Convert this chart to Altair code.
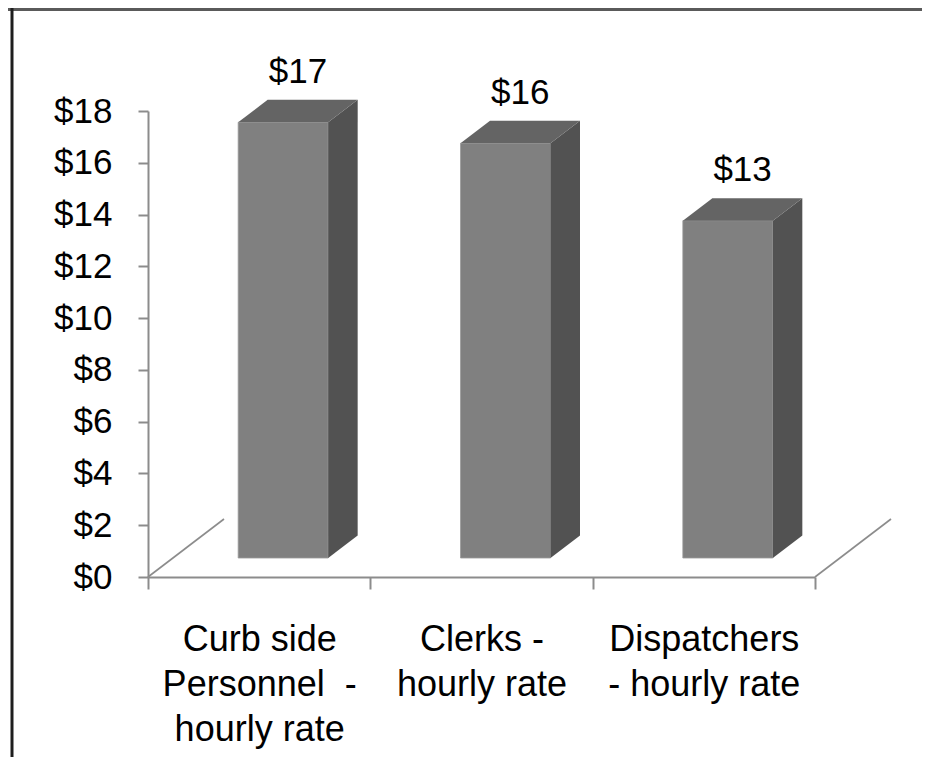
import json
import altair as alt
import pandas as pd

# ---- data ----
categories = ["Curb side\nPersonnel \u00a0-\nhourly rate", "Clerks -\nhourly rate", "Dispatchers\n- hourly rate"]
values = [16.83, 16.02, 13.03]
value_labels = ["$17", "$16", "$13"]
y_ticks = [0, 2, 4, 6, 8, 10, 12, 14, 16, 18]

# ---- layout / geometry constants ----
W, H = 667, 466
PX_X = W / 3.0
PX_Y = H / 18.0
HALF = 45 / PX_X
OFF_X, OFF_Y = 24 / PX_X, 19 / PX_Y
DEP_X, DEP_Y = 29.5 / PX_X, 22.5 / PX_Y
FLOOR_X, FLOOR_Y = 76 / PX_X, 58 / PX_Y
FONT = "Liberation Sans"

front_rows, side_rows, top_rows, label_rows = [], [], [], []
for i, (v, t) in enumerate(zip(values, value_labels)):
    c = i + 0.5 + OFF_X
    xl, xr = c - HALF, c + HALF
    y0, y1 = OFF_Y, OFF_Y + v
    front_rows.append(dict(bar=i, xl=xl, xr=xr, y0=y0, y1=y1))
    side_rows += [dict(bar=i, x=xr, lo=y0, hi=y1),
                  dict(bar=i, x=xr + DEP_X, lo=y0 + DEP_Y, hi=y1 + DEP_Y)]
    top_rows += [dict(bar=i, y=y1, xa=xl, xb=xr),
                 dict(bar=i, y=y1 + DEP_Y, xa=xl + DEP_X, xb=xr + DEP_X)]
    label_rows.append(dict(x=c + DEP_X / 2, y=y1 + DEP_Y, t=t))

front = pd.DataFrame(front_rows)
side = pd.DataFrame(side_rows)
top = pd.DataFrame(top_rows)
labels = pd.DataFrame(label_rows)
floor = pd.DataFrame([
    dict(line=0, x=0, y=0), dict(line=0, x=FLOOR_X, y=FLOOR_Y),
    dict(line=1, x=3, y=0), dict(line=1, x=3 + FLOOR_X, y=FLOOR_Y),
])
dummy = pd.DataFrame({"a": [0]})

label_lists = json.dumps([c.split("\n") for c in categories])

xscale = alt.Scale(domain=[0, 3], nice=False, zero=False)
yscale = alt.Scale(domain=[0, 18], nice=False, zero=True)

x_axis = alt.Axis(
    values=[0, 0.5, 1, 1.5, 2, 2.5, 3],
    labelExpr=f"datum.value % 1 == 0 ? '' : {label_lists}[floor(datum.value)]",
    tickOpacity={"condition": {"test": "datum.value % 1 != 0", "value": 0}, "value": 1},
    grid=False, title=None, tickSize=12, tickColor="#8c8c8c", tickWidth=2,
    domainColor="#8c8c8c", domainWidth=2, labelFontSize=36, labelFont=FONT,
    labelColor="#000000", labelLineHeight=45, labelPadding=33, labelOverlap=False,
    labelFlush=False, labelBound=False, labelBaseline="top", labelLimit=0,
)
y_axis = alt.Axis(
    values=y_ticks, labelExpr="'$' + datum.value", grid=False, title=None,
    tickSize=10, tickColor="#8c8c8c", tickWidth=2, domainColor="#8c8c8c",
    domainWidth=2, labelFontSize=35, labelFont=FONT, labelColor="#000000",
    labelPadding=26, labelOverlap=False, labelLimit=0,
)

front_layer = alt.Chart(front).mark_rect(color="#808080", stroke="#9a9a9a", strokeWidth=0.8).encode(
    x=alt.X("xl:Q", scale=xscale, axis=x_axis),
    x2="xr:Q",
    y=alt.Y("y0:Q", scale=yscale, axis=y_axis),
    y2="y1:Q",
)
side_layer = alt.Chart(side).mark_area(color="#525252", orient="vertical").encode(
    x=alt.X("x:Q", scale=xscale), y=alt.Y("lo:Q", scale=yscale), y2="hi:Q",
    detail="bar:N",
)
top_layer = alt.Chart(top).mark_area(color="#646464", orient="horizontal").encode(
    y=alt.Y("y:Q", scale=yscale), x=alt.X("xa:Q", scale=xscale), x2="xb:Q",
    detail="bar:N",
)
floor_layer = alt.Chart(floor).mark_line(color="#8c8c8c", strokeWidth=1.6).encode(
    x=alt.X("x:Q", scale=xscale), y=alt.Y("y:Q", scale=yscale), detail="line:N",
)
label_layer = alt.Chart(labels).mark_text(
    font=FONT, fontSize=35, color="#000000", baseline="alphabetic", dy=-17
).encode(x=alt.X("x:Q", scale=xscale), y=alt.Y("y:Q", scale=yscale), text="t:N")

frame_top = alt.Chart(dummy).mark_rule(color="#5a5a5a", strokeWidth=3).encode(
    x=alt.value(-140), x2=alt.value(W + 107), y=alt.value(-101.5)
)
frame_left = alt.Chart(dummy).mark_rule(color="#1e1e1e", strokeWidth=3).encode(
    x=alt.value(-136), y=alt.value(-103), y2=alt.value(H + 200)
)

chart = alt.layer(
    floor_layer, front_layer, side_layer, top_layer, label_layer, frame_top, frame_left
).properties(
    width=W, height=H,
    autosize=alt.AutoSizeParams(type="none"),
    padding={"left": 140, "top": 103, "right": 107, "bottom": 180},
    background="#ffffff",
).configure_view(stroke=None)

chart.save("out.html", embed_options={"renderer": "svg", "actions": False})
